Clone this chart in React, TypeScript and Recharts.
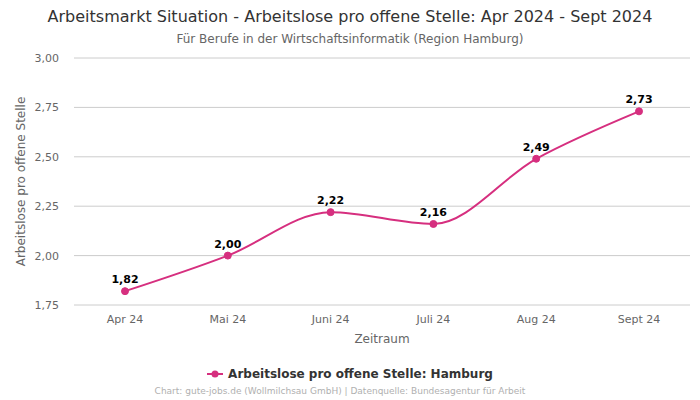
import React from "react";
import {
  LineChart,
  Line,
  XAxis,
  YAxis,
  CartesianGrid,
  LabelList,
} from "recharts";

const months = ["Apr 24", "Mai 24", "Juni 24", "Juli 24", "Aug 24", "Sept 24"];
const hamburg = [1.82, 2.0, 2.22, 2.16, 2.49, 2.73];
const yTicks = [1.75, 2.0, 2.25, 2.5, 2.75, 3.0];

const data = months.map((month, i) => ({ month, value: hamburg[i] }));

const PINK = "#d62f7f";
const FONT = "'DejaVu Sans', sans-serif";

const fmt = (v: number) => v.toFixed(2).replace(".", ",");

export default function App() {
  return (
    <div
      style={{
        position: "fixed",
        left: 0,
        top: 0,
        width: 700,
        height: 400,
        background: "#fff",
        fontFamily: FONT,
      }}
    >
      <div
        style={{
          position: "absolute",
          top: 7,
          width: 700,
          textAlign: "center",
          fontSize: 16,
          color: "#333",
        }}
      >
        Arbeitsmarkt Situation - Arbeitslose pro offene Stelle: Apr 2024 - Sept 2024
      </div>
      <div
        style={{
          position: "absolute",
          top: 32,
          width: 700,
          textAlign: "center",
          fontSize: 12,
          color: "#666",
        }}
      >
        Für Berufe in der Wirtschaftsinformatik (Region Hamburg)
      </div>

      <LineChart
        width={700}
        height={400}
        data={data}
        margin={{ top: 58, right: 10, bottom: 65, left: 0 }}
        style={{ position: "absolute", left: 0, top: 0 }}
      >
        <CartesianGrid vertical={false} stroke="#cccccc" />
        <XAxis
          dataKey="month"
          height={30}
          padding={{ left: 51, right: 51 }}
          axisLine={false}
          tickLine={false}
          tick={{ fontSize: 11, fill: "#666", fontFamily: FONT }}
          tickMargin={4}
          label={{
            value: "Zeitraum",
            position: "insideBottom",
            offset: -8,
            fontSize: 12,
            fill: "#666",
            fontFamily: FONT,
          }}
        />
        <YAxis
          width={74}
          domain={[1.75, 3]}
          ticks={yTicks}
          tickFormatter={fmt}
          axisLine={false}
          tickLine={false}
          tickMargin={9}
          tick={{ fontSize: 11, fill: "#666", fontFamily: FONT }}
          label={{
            value: "Arbeitslose pro offene Stelle",
            angle: -90,
            position: "insideLeft",
            offset: 21,
            style: { textAnchor: "middle" },
            fontSize: 12,
            fill: "#666",
            fontFamily: FONT,
          }}
        />
        <Line
          type="monotone"
          dataKey="value"
          stroke={PINK}
          strokeWidth={2}
          dot={{ r: 3.5, fill: PINK, stroke: PINK, strokeWidth: 1 }}
          isAnimationActive={false}
        >
          <LabelList
            dataKey="value"
            position="top"
            offset={8}
            formatter={(v: number) => fmt(v)}
            style={{ fontSize: 11, fontWeight: "bold", fill: "#000", fontFamily: FONT }}
          />
        </Line>
      </LineChart>

      <div
        style={{
          position: "absolute",
          top: 367,
          width: 700,
          display: "flex",
          justifyContent: "center",
          alignItems: "center",
          fontSize: 12,
          fontWeight: "bold",
          color: "#333",
        }}
      >
        <svg width={16} height={10} style={{ marginRight: 5 }}>
          <line x1={0} y1={5} x2={16} y2={5} stroke={PINK} strokeWidth={2} />
          <circle cx={8} cy={5} r={3.5} fill={PINK} />
        </svg>
        Arbeitslose pro offene Stelle: Hamburg
      </div>
      <div
        style={{
          position: "absolute",
          top: 386,
          width: 680,
          textAlign: "center",
          fontSize: 9,
          color: "#b0b0b0",
        }}
      >
        Chart: gute-jobs.de (Wollmilchsau GmbH) | Datenquelle: Bundesagentur für Arbeit
      </div>
    </div>
  );
}
